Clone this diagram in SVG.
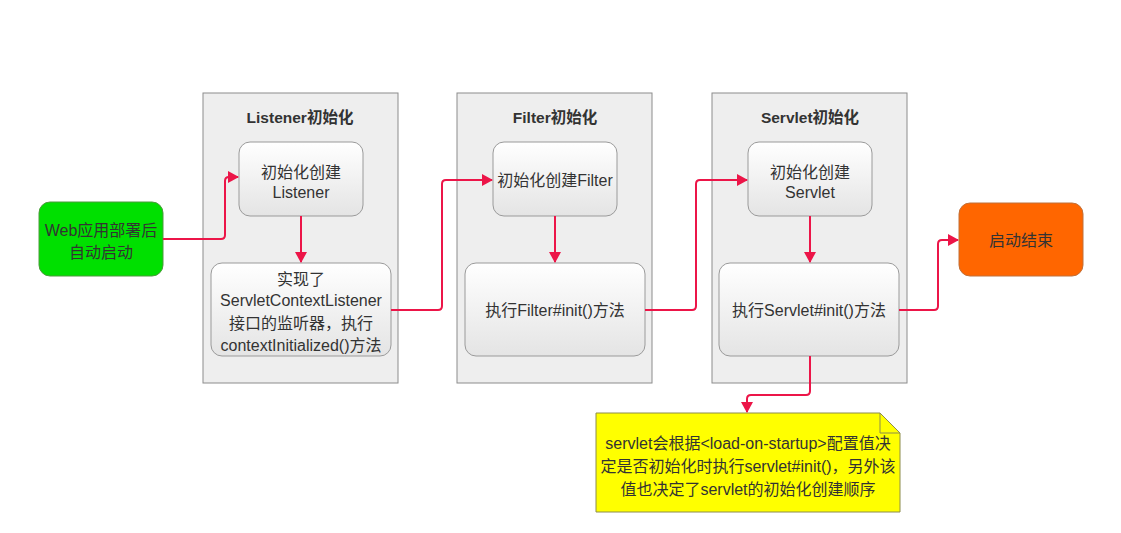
<svg xmlns="http://www.w3.org/2000/svg" width="1121" height="533" viewBox="0 0 1121 533">
<defs>
<linearGradient id="g" x1="0" y1="0" x2="0" y2="1">
<stop offset="0" stop-color="#ffffff"/>
<stop offset="1" stop-color="#e4e4e4"/>
</linearGradient>
<marker id="ah" markerWidth="12" markerHeight="12" refX="10" refY="6" orient="auto" markerUnits="userSpaceOnUse">
<path d="M0,0 L11,6 L0,12 Z" fill="#ec1548"/>
</marker>
<style>
text{font-family:"Liberation Sans","Noto Sans CJK SC",sans-serif;font-size:16px;fill:#333;text-anchor:middle}
.t{font-weight:bold;font-size:15.5px}
.cont{fill:#eeeeee;stroke:#8c8c8c;stroke-width:1}
.inner{fill:url(#g);stroke:#9a9a9a;stroke-width:1}
.c{fill:none;stroke:#ec1548;stroke-width:2;stroke-linejoin:round;marker-end:url(#ah)}
</style>
</defs>
<rect width="1121" height="533" fill="#ffffff"/>
<g id="listener-group">
<rect class="cont" x="203" y="93" width="195" height="290"/>
<text class="t" x="300" y="123">Listener初始化</text>
</g>
<g id="filter-group">
<rect class="cont" x="457" y="93" width="195" height="290"/>
<text class="t" x="555" y="123">Filter初始化</text>
</g>
<g id="servlet-group">
<rect class="cont" x="712" y="93" width="195" height="290"/>
<text class="t" x="810" y="123">Servlet初始化</text>
</g>
<g id="start">
<rect x="39" y="202" width="124" height="74" rx="11" fill="#00e000" stroke="#4c9a3c" stroke-width="1"/>
<text x="101" y="236">Web应用部署后</text>
<text x="101" y="258">自动启动</text>
</g>
<g id="create-listener">
<rect class="inner" x="239" y="142" width="124" height="74" rx="11"/>
<text x="301" y="178">初始化创建</text>
<text x="301" y="198">Listener</text>
</g>
<g id="exec-listener">
<rect class="inner" x="211" y="263" width="180" height="93" rx="11"/>
<text x="301" y="285">实现了</text>
<text x="301" y="306">ServletContextListener</text>
<text x="301" y="329">接口的监听器，执行</text>
<text x="301" y="351">contextInitialized()方法</text>
</g>
<g id="create-filter">
<rect class="inner" x="493" y="142" width="124" height="74" rx="11"/>
<text x="555" y="186">初始化创建Filter</text>
</g>
<g id="exec-filter">
<rect class="inner" x="465" y="263" width="180" height="93" rx="11"/>
<text x="555" y="316">执行Filter#init()方法</text>
</g>
<g id="create-servlet">
<rect class="inner" x="748" y="142" width="124" height="74" rx="11"/>
<text x="810" y="178">初始化创建</text>
<text x="810" y="198">Servlet</text>
</g>
<g id="exec-servlet">
<rect class="inner" x="719" y="263" width="180" height="93" rx="11"/>
<text x="809" y="316">执行Servlet#init()方法</text>
</g>
<g id="end">
<rect x="959" y="203" width="124" height="73" rx="11" fill="#ff6600" stroke="#c0703a" stroke-width="1"/>
<text x="1021" y="246">启动结束</text>
</g>
<g id="note">
<path d="M596,413 L880,413 L900,433 L900,512 L596,512 Z" fill="#ffff00" stroke="#8c8c4c" stroke-width="1"/>
<path d="M880,413 L880,433 L900,433" fill="none" stroke="#8c8c4c" stroke-width="1"/>
<text x="748" y="449">servlet会根据&lt;load-on-startup&gt;配置值决</text>
<text x="748" y="472">定是否初始化时执行servlet#init()，另外该</text>
<text x="748" y="495">值也决定了servlet的初始化创建顺序</text>
</g>
<g id="connectors">
<path class="c" d="M163,239 L221,239 Q225,239 225,235 L225,181 Q225,177 229,177 L238,177"/>
<path class="c" d="M301,216 L301,262"/>
<path class="c" d="M391,310 L438,310 Q442,310 442,306 L442,184 Q442,180 446,180 L492,180"/>
<path class="c" d="M555,216 L555,262"/>
<path class="c" d="M645,310 L692,310 Q696,310 696,306 L696,184 Q696,180 700,180 L747,180"/>
<path class="c" d="M810,216 L810,262"/>
<path class="c" d="M899,310 L934,310 Q938,310 938,306 L938,244 Q938,240 942,240 L958,240"/>
<path class="c" d="M810,356 L810,391 Q810,395 806,395 L751,395 Q747,395 747,399 L747,412"/>
</g>
</svg>
